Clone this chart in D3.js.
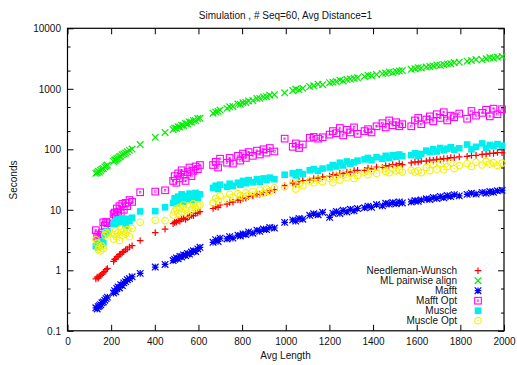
<!DOCTYPE html>
<html lang="en">
<head>
    <meta charset="UTF-8">
    <script src="https://d3js.org/d3.v7.min.js"></script>
    <title>Simulation</title>
    <style>
        body { margin: 0; background: white; }
        text { font-family: 'Liberation Sans', Arial, sans-serif; fill: #111; }
    </style>
</head>
<body>
<svg height="365" width="517"></svg>
<script>
    const avgLength = [130,136,141,146,152,158,164,171,177,183,
        211,216,221,226,232,238,244,251,258,266,274,284,296,
        333,402,447,
        484,491,499,507,515,523,532,541,550,559,568,577,587,597,607,
        667,679,690,699,731,743,758,781,792,804,817,830,849,868,881,898,912,927,948,
        995,1032,1046,1061,1078,1110,1128,1148,1169,1201,1216,1232,1248,1263,1280,1296,1313,1329,
        1361,1377,1393,1416,1443,1458,1474,1490,1506,1520,1534,1575,1592,1607,1621,
        1644,1660,1676,1692,1708,1724,1740,1756,1772,1795,1831,1851,1872,1900,1918,1935,1952,1970,1991];

    const needleman = [0.72,0.77,0.74,0.80,0.83,0.86,0.91,0.96,1.03,1.07,
        1.40,1.52,1.55,1.66,1.70,1.82,1.85,1.98,2.04,2.18,2.25,2.42,2.55,
        3.1,4.2,4.8,
        5.9,6.2,6.3,6.6,6.5,7.0,7.2,6.9,7.5,7.8,8.1,8.0,8.7,8.9,9.3,
        10.5,11.2,11.0,12.0,12.4,13.2,13.4,14.5,14.6,15.4,15.6,16.6,16.9,18.0,18.1,19.3,19.4,20.6,21.5,
        25,27.5,26.5,29.4,30.5,31,33,33.5,35,36,38,37.5,40,39.5,42,42,44.5,45,
        45,49,47.5,51,50,54,52.5,56,54.5,58,56,59.5,62,61.5,64,
        64,66.5,66,68.5,68,70.5,70,73,72.5,75,76.5,79,79.5,82.5,83,85.5,85.5,88.5,88];

    const mlPairwise = [40,41,43,42,45,47,48,51,53,55,
        63,66,67,70,72,75,77,81,84,87,91,96,101,
        120,158,190,
        212,224,222,236,234,250,248,266,262,282,280,300,298,322,325,
        395,415,420,445,475,505,510,560,555,590,595,630,640,690,695,735,740,785,800,
        860,940,990,960,1020,1090,1120,1190,1170,1260,1290,1320,1390,1350,1420,1450,1490,1520,
        1600,1680,1640,1720,1780,1820,1900,1850,1930,1970,2000,2100,2150,2240,2200,
        2290,2340,2390,2480,2440,2530,2580,2600,2720,2750,2860,2930,3050,3020,3150,3280,3220,3350,3430];

    const mafft = [0.24,0.23,0.25,0.26,0.27,0.29,0.30,0.32,0.34,0.36,
        0.42,0.46,0.44,0.50,0.53,0.51,0.58,0.56,0.62,0.65,0.70,0.73,0.78,
        0.89,1.13,1.25,
        1.45,1.52,1.60,1.55,1.70,1.66,1.80,1.75,1.90,1.85,2.00,2.10,2.05,2.25,2.40,
        2.9,3.2,3.0,3.4,3.3,3.6,3.4,3.8,3.7,4.0,3.9,4.3,4.1,4.6,4.4,4.8,4.7,5.1,5.0,
        6.2,6.8,6.5,7.2,7.0,8.1,8.6,8.3,9.1,7.5,8.8,9.4,8.7,9.8,9.2,10.2,9.6,10.5,
        10.8,11.5,11.0,12.2,11.6,12.8,12.4,13.2,12.6,13.5,13.0,13.5,14.2,13.8,14.6,
        15.2,14.8,16.0,15.4,16.6,15.8,17.2,16.5,17.8,17.0,18.0,18.8,18.2,19.4,18.8,20.0,19.5,20.6,21.0];

    const mafftOpt = [4.6,3.6,3.9,3.5,3.8,4.2,6.2,5.5,6.3,6.0,
        8.5,9.0,7.8,10.5,9.2,11.5,8.8,12.5,10,13,11.5,14.5,13.5,
        19.5,20,21,
        30,36,28,40,33,45,38,30,42,50,36,44,52,47,55,
        55,62,50,70,60,72,58,78,65,85,72,90,78,95,82,100,88,105,92,
        150,110,125,105,120,155,160,150,158,175,200,185,225,170,210,190,230,180,
        200,215,190,240,270,230,300,250,280,240,260,240,300,330,260,
        310,350,290,380,330,410,300,360,340,390,320,430,360,400,450,350,470,380,460];

    const muscle = [2.5,2.7,2.4,2.9,2.6,3.0,2.8,4.0,4.2,4.4,
        5.8,6.3,5.9,6.8,6.2,7.0,6.4,7.2,6.6,5.5,7.1,6.5,7.4,
        9.4,9.5,11,
        13,15.5,12.8,16.5,14,18,13.5,17,15,18.5,14.5,16,19,15.5,18,
        23,25,22,26,24,27,25,28,26,30,27.5,31,28.5,32,29,33,31,34,32,
        38,40,37,42,39,45,47,44,48,50,55,52,60,54,63,58,61,65,
        68,72,66,74,70,78,72,80,75,82,77,80,86,78,84,
        95,90,100,92,105,96,102,108,98,104,120,100,110,125,105,118,112,122,115];

    const muscleOpt = [3.2,2.8,2.2,2.4,2.1,2.5,2.3,3.8,4.2,4.0,
        3.3,3.9,4.5,3.6,4.2,3.1,4.8,3.8,4.4,4.0,4.7,3.6,4.9,
        6.2,6.7,6.6,
        8.2,9.5,10.5,8.8,11,9.2,12,10,8.5,11.5,9.8,12.5,10.5,11.8,12,
        13,15.5,14,17,15,18,16,18.5,17,16.5,19,17.5,20,18,21,19,22,20,23,
        24,28,22,27,25,30,28,32,29,33,28,36,31,38,34,40,33,37,
        42,38,45,40,47,43,41,48,44,46,42,45,42,44,41,
        50,44,56,47,58,46,52,60,48,54,58,52,61,55,63,57,60,54,59];

    const seriesNames = ["Needleman-Wunsch", "ML pairwise align", "Mafft", "Mafft Opt", "Muscle", "Muscle Opt"];
    const seriesValues = [needleman, mlPairwise, mafft, mafftOpt, muscle, muscleOpt];
    const seriesColors = ["#ff0000", "#00ee00", "#0000ff", "#ff00ff", "#00eeee", "#f2f200"];
    const seriesShapes = ["plus", "cross", "star", "box", "fillbox", "circle"];

    const xTicks = d3.range(0, 2001, 200);
    const yTicks = [0.1, 1, 10, 100, 1000, 10000];
    const yMinor = [0.2, 0.5, 2, 5, 20, 50, 200, 500, 2000, 5000];

    const plotLeft = 67.5, plotRight = 504, plotTop = 28.3, plotBottom = 330.8;
    const x = d3.scaleLinear().domain([0, 2000]).range([plotLeft, plotRight]);
    const y = d3.scaleLog().domain([0.1, 10000]).range([plotBottom, plotTop]);

    const svg = d3.select("svg");

    // title and axis labels
    svg.append("text").attr("x", 285.5).attr("y", 18.5)
        .attr("text-anchor", "middle").attr("font-size", 10)
        .text("Simulation , # Seq=60, Avg Distance=1");
    svg.append("text").attr("x", 285.5).attr("y", 359)
        .attr("text-anchor", "middle").attr("font-size", 10)
        .text("Avg Length");
    svg.append("text").attr("transform", "translate(17,180) rotate(-90)")
        .attr("text-anchor", "middle").attr("font-size", 10)
        .text("Seconds");

    function styleAxis(g) {
        g.select(".domain").remove();
        g.attr("font-family", null).attr("font-size", 10);
        g.selectAll("line").attr("stroke", "#000");
        g.selectAll("text").attr("fill", "#111");
    }

    svg.append("g").attr("transform", `translate(0,${plotBottom})`)
        .call(d3.axisBottom(x).tickValues(xTicks).tickFormat(d3.format("d"))
            .tickSizeInner(-6).tickSizeOuter(0).tickPadding(7))
        .call(styleAxis);
    svg.append("g").attr("transform", `translate(0,${plotTop})`)
        .call(d3.axisTop(x).tickValues(xTicks).tickFormat("")
            .tickSizeInner(-6).tickSizeOuter(0))
        .call(styleAxis);
    svg.append("g").attr("transform", `translate(${plotLeft},0)`)
        .call(d3.axisLeft(y).tickValues(yTicks).tickFormat(d => d < 1 ? "0.1" : d3.format("d")(d))
            .tickSizeInner(-6).tickSizeOuter(0).tickPadding(6.5))
        .call(styleAxis);
    svg.append("g").attr("transform", `translate(${plotLeft},0)`)
        .call(d3.axisLeft(y).tickValues(yMinor).tickFormat("")
            .tickSizeInner(-3).tickSizeOuter(0))
        .call(styleAxis);
    svg.append("g").attr("transform", `translate(${plotRight},0)`)
        .call(d3.axisRight(y).tickValues(yTicks).tickFormat("")
            .tickSizeInner(-6).tickSizeOuter(0))
        .call(styleAxis);
    svg.append("g").attr("transform", `translate(${plotRight},0)`)
        .call(d3.axisRight(y).tickValues(yMinor).tickFormat("")
            .tickSizeInner(-3).tickSizeOuter(0))
        .call(styleAxis);

    svg.append("rect").attr("x", plotLeft).attr("y", plotTop)
        .attr("width", plotRight - plotLeft).attr("height", plotBottom - plotTop)
        .attr("fill", "none").attr("stroke", "#000").attr("stroke-width", 1.2);

    // gnuplot-like point types
    function drawPoint(g, shape, color) {
        const s = 3.3;
        if (shape === "plus" || shape === "cross" || shape === "star") {
            let d = "";
            if (shape !== "cross") d += `M${-s},0H${s}M0,${-s}V${s}`;
            if (shape !== "plus") d += `M${-s},${-s}L${s},${s}M${-s},${s}L${s},${-s}`;
            g.append("path").attr("d", d).attr("stroke", color).attr("stroke-width", 1.2).attr("fill", "none");
        } else if (shape === "box") {
            g.append("rect").attr("x", -s).attr("y", -s).attr("width", 2 * s).attr("height", 2 * s)
                .attr("fill", "none").attr("stroke", color).attr("stroke-width", 1.1);
            g.append("rect").attr("x", -0.8).attr("y", -0.8).attr("width", 1.6).attr("height", 1.6)
                .attr("fill", "none").attr("stroke", color).attr("stroke-width", 0.6);
        } else if (shape === "fillbox") {
            g.append("rect").attr("x", -s).attr("y", -s).attr("width", 2 * s).attr("height", 2 * s)
                .attr("fill", color);
        } else {
            g.append("circle").attr("r", s).attr("fill", "none").attr("stroke", color).attr("stroke-width", 1.1);
            g.append("circle").attr("r", 0.7).attr("fill", color);
        }
    }

    seriesValues.forEach((vals, i) => {
        const g = svg.append("g").attr("class", "series");
        g.selectAll("g").data(vals).enter().append("g")
            .attr("transform", (d, j) => `translate(${x(avgLength[j])},${y(d)})`)
            .each(function () { drawPoint(d3.select(this), seriesShapes[i], seriesColors[i]); });
    });

    // legend
    const legend = svg.append("g");
    seriesNames.forEach((name, i) => {
        const rowY = 270.7 + i * 10;
        legend.append("text").attr("x", 457).attr("y", rowY).attr("dy", "0.35em")
            .attr("text-anchor", "end").attr("font-size", 10).text(name);
        drawPoint(legend.append("g").attr("transform", `translate(478,${rowY})`), seriesShapes[i], seriesColors[i]);
    });
</script>
</body>
</html>
